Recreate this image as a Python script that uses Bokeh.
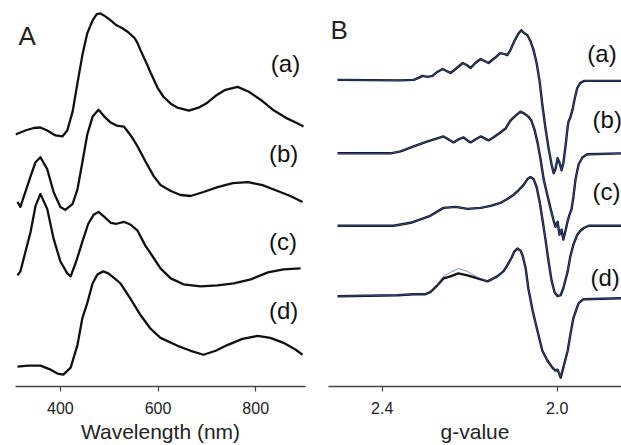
from bokeh.plotting import figure
from bokeh.layouts import row
from bokeh.models import Range1d, Label, FixedTicker, NumeralTickFormatter
from bokeh.embed import file_html
from bokeh.resources import INLINE

# ---------------- Panel A : UV-vis spectra (stacked, arbitrary units) ----------------
wl_a = [308, 328, 345, 359, 373, 390, 404, 414, 425, 435, 445, 455, 466, 474, 482, 492,
        503, 515, 527, 539, 552, 558, 564, 578, 585, 599, 611, 626, 640, 663, 683, 701,
        718, 738, 763, 786, 810, 835, 861, 882, 898]
abs_a = [2.54, 2.58, 2.605, 2.61, 2.58, 2.53, 2.52, 2.58, 2.77, 3.06, 3.34, 3.56, 3.69, 3.75, 3.76, 3.73,
         3.69, 3.64, 3.61, 3.57, 3.51, 3.46, 3.39, 3.24, 3.16, 3.01, 2.92, 2.85, 2.81, 2.78, 2.81, 2.86,
         2.93, 2.99, 3.02, 2.97, 2.89, 2.79, 2.71, 2.66, 2.62]

wl_b = [312, 318, 339, 349, 359, 373, 386, 400, 410, 425, 435, 445, 455, 466, 478, 490,
        503, 515, 530, 544, 558, 574, 591, 605, 626, 646, 667, 693, 722, 753, 784, 814,
        845, 871, 896]
abs_b = [1.86, 1.81, 2.12, 2.26, 2.31, 2.19, 1.96, 1.81, 1.78, 1.84, 1.99, 2.26, 2.54, 2.72, 2.79, 2.72,
         2.66, 2.63, 2.62, 2.53, 2.42, 2.27, 2.12, 2.03, 1.97, 1.93, 1.92, 1.96, 2.01, 2.05, 2.06, 2.03,
         1.97, 1.92, 1.86]

wl_c = [312, 318, 339, 349, 359, 373, 386, 400, 414, 421, 433, 445, 457, 468, 478, 490,
        503, 515, 530, 544, 558, 574, 589, 605, 626, 652, 687, 722, 755, 790, 825, 857, 892]
abs_c = [1.12, 1.16, 1.56, 1.82, 1.94, 1.79, 1.49, 1.26, 1.14, 1.11, 1.27, 1.46, 1.64, 1.73, 1.76, 1.71,
         1.65, 1.64, 1.66, 1.63, 1.57, 1.42, 1.31, 1.19, 1.09, 1.03, 1.01, 1.02, 1.04, 1.08, 1.15, 1.18, 1.19]

wl_d = [312, 334, 359, 380, 394, 406, 421, 435, 445, 455, 466, 476, 488, 498, 511, 523,
        544, 564, 585, 605, 640, 667, 693, 718, 743, 773, 804, 830, 857, 882, 896]
abs_d = [0.20, 0.21, 0.21, 0.17, 0.13, 0.12, 0.19, 0.42, 0.69, 0.84, 1.04, 1.13, 1.16, 1.14, 1.09, 1.04,
         0.88, 0.72, 0.58, 0.49, 0.41, 0.36, 0.32, 0.36, 0.42, 0.48, 0.51, 0.49, 0.44, 0.37, 0.32]

uv_ticks = [400, 600, 800]

# ---------------- Panel B : EPR spectra (experiment black, simulation blue) ----------------
g_a = [2.502, 2.358, 2.328, 2.317, 2.308, 2.296, 2.285, 2.274, 2.262, 2.253, 2.244, 2.232, 2.216, 2.207,
       2.198, 2.187, 2.175, 2.166, 2.157, 2.143, 2.130, 2.120, 2.114, 2.107, 2.098, 2.088, 2.082, 2.075,
       2.068, 2.061, 2.054, 2.047, 2.040, 2.034, 2.027, 2.020, 2.013, 2.008, 2.004, 1.999, 1.995, 1.990,
       1.986, 1.981, 1.976, 1.974, 1.970, 1.965, 1.960, 1.954, 1.947, 1.938, 1.853]
epr_a = [3.09, 3.085, 3.09, 3.11, 3.13, 3.12, 3.13, 3.17, 3.20, 3.18, 3.16, 3.20, 3.26, 3.24,
         3.21, 3.26, 3.30, 3.28, 3.26, 3.31, 3.36, 3.35, 3.34, 3.39, 3.48, 3.56, 3.59, 3.56,
         3.54, 3.48, 3.39, 3.26, 3.07, 2.84, 2.61, 2.41, 2.24, 2.15, 2.19, 2.30, 2.26, 2.18,
         2.25, 2.42, 2.62, 2.67, 2.71, 2.79, 2.90, 3.01, 3.06, 3.08, 3.08]

g_b = [2.502, 2.381, 2.358, 2.328, 2.296, 2.274, 2.260, 2.248, 2.237, 2.226, 2.214, 2.205, 2.198, 2.187,
       2.175, 2.166, 2.157, 2.146, 2.130, 2.118, 2.107, 2.095, 2.084, 2.075, 2.066, 2.059, 2.052, 2.045,
       2.038, 2.031, 2.022, 2.015, 2.008, 2.004, 1.999, 1.995, 1.990, 1.986, 1.981, 1.976, 1.972, 1.967,
       1.963, 1.958, 1.951, 1.942, 1.931, 1.853]
epr_b = [2.35, 2.35, 2.37, 2.42, 2.47, 2.50, 2.52, 2.49, 2.46, 2.49, 2.51, 2.48, 2.46, 2.49,
         2.52, 2.50, 2.48, 2.51, 2.56, 2.60, 2.68, 2.73, 2.77, 2.75, 2.72, 2.68, 2.59, 2.46,
         2.29, 2.09, 1.92, 1.79, 1.67, 1.61, 1.66, 1.53, 1.58, 1.48, 1.57, 1.67, 1.73, 1.79,
         1.91, 2.09, 2.24, 2.31, 2.34, 2.35]

g_c = [2.502, 2.374, 2.335, 2.290, 2.260, 2.232, 2.205, 2.175, 2.152, 2.130, 2.114, 2.100, 2.088, 2.077,
       2.068, 2.061, 2.054, 2.047, 2.040, 2.034, 2.027, 2.020, 2.013, 2.006, 1.999, 1.992, 1.986, 1.976,
       1.970, 1.963, 1.954, 1.947, 1.938, 1.928, 1.853]
epr_c = [1.62, 1.62, 1.65, 1.72, 1.80, 1.81, 1.79, 1.80, 1.82, 1.85, 1.89, 1.93, 1.98, 2.03,
         2.09, 2.11, 2.09, 2.01, 1.86, 1.69, 1.49, 1.27, 1.07, 0.95, 0.91, 0.92, 0.99, 1.16,
         1.31, 1.43, 1.53, 1.57, 1.60, 1.62, 1.62]

g_d = [2.502, 2.365, 2.328, 2.301, 2.290, 2.274, 2.260, 2.244, 2.226, 2.205, 2.182, 2.159, 2.137, 2.123,
       2.114, 2.104, 2.098, 2.091, 2.084, 2.079, 2.072, 2.066, 2.056, 2.045, 2.034, 2.022, 2.011, 2.004,
       1.999, 1.992, 1.986, 1.976, 1.970, 1.963, 1.951, 1.940, 1.853]
epr_d = [0.91, 0.92, 0.93, 0.93, 0.95, 1.02, 1.09, 1.11, 1.14, 1.12, 1.09, 1.06, 1.11, 1.16,
         1.22, 1.30, 1.36, 1.39, 1.37, 1.32, 1.19, 0.99, 0.76, 0.56, 0.36, 0.26, 0.19, 0.16,
         0.17, 0.09, 0.19, 0.36, 0.52, 0.69, 0.84, 0.88, 0.89]
sim_d = [0.91, 0.92, 0.93, 0.93, 0.95, 1.02, 1.11, 1.15, 1.19, 1.16, 1.10, 1.06, 1.11, 1.16,
         1.22, 1.30, 1.36, 1.39, 1.37, 1.32, 1.19, 0.99, 0.76, 0.56, 0.36, 0.26, 0.19, 0.16,
         0.17, 0.10, 0.19, 0.36, 0.52, 0.69, 0.84, 0.88, 0.89]

g_ticks = [2.4, 2.0]

FONT = "Liberation Sans"
BLACK = "#111111"
BLUE = "#4360d0"
AXIS = "#444444"


def style_axis(p):
    ax = p.xaxis[0]
    ax.axis_line_color = AXIS
    ax.axis_line_width = 1.5
    ax.major_tick_line_color = AXIS
    ax.major_tick_line_width = 1.2
    ax.major_tick_out = 5
    ax.major_tick_in = 0
    ax.minor_tick_line_color = None
    ax.major_label_text_font = FONT
    ax.major_label_text_font_size = "16px"
    ax.major_label_text_color = "#222222"
    ax.major_label_text_line_height = 0.65
    ax.major_label_standoff = 10
    ax.axis_label_text_font = FONT
    ax.axis_label_text_font_size = "21px"
    ax.axis_label_text_font_style = "normal"
    ax.axis_label_text_color = "#222222"
    ax.axis_label_text_line_height = 0.65
    ax.axis_label_standoff = 3
    p.grid.visible = False
    p.outline_line_color = None
    p.background_fill_color = "white"
    p.border_fill_color = "white"


# ---- Panel A figure
pA = figure(width=310, height=445, x_range=Range1d(308, 902), y_range=Range1d(0, 3.89),
            output_backend="svg", toolbar_location=None, y_axis_location=None,
            min_border_left=15, min_border_right=5, min_border_top=0, min_border_bottom=56,
            x_axis_label="Wavelength (nm)")
style_axis(pA)
pA.xaxis.ticker = FixedTicker(ticks=uv_ticks)
for xs, ys in [(wl_a, abs_a), (wl_b, abs_b), (wl_c, abs_c), (wl_d, abs_d)]:
    pA.line(xs, ys, line_color=BLACK, line_width=2.3, line_join="round")

for txt, x, y in [("(a)", 831, 3.26), ("(b)", 827, 2.35), ("(c)", 827, 1.46), ("(d)", 827, 0.77)]:
    pA.add_layout(Label(x=x, y=y, text=txt, text_font=FONT, text_font_size="24px",
                        text_baseline="middle", text_color="#111111"))
pA.add_layout(Label(x=314, y=3.53, text="A", text_font=FONT, text_font_size="26px",
                    text_baseline="middle", text_color="#222222"))

# ---- Panel B figure
pB = figure(width=311, height=445, x_range=Range1d(2.5227, 1.853), y_range=Range1d(0, 3.89),
            output_backend="svg", toolbar_location=None, y_axis_location=None,
            min_border_left=18, min_border_right=0, min_border_top=0, min_border_bottom=56,
            x_axis_label="g-value")
style_axis(pB)
pB.xaxis.ticker = FixedTicker(ticks=g_ticks)
pB.xaxis.formatter = NumeralTickFormatter(format="0.0")
for xs, ys, sims in [(g_a, epr_a, epr_a), (g_b, epr_b, epr_b), (g_c, epr_c, epr_c), (g_d, epr_d, sim_d)]:
    pB.line(xs, ys, line_color=BLACK, line_width=2.4, line_join="round")
    pB.line(xs, sims, line_color=BLUE, line_width=0.9, line_join="round", line_alpha=0.8)

for txt, x, y in [("(a)", 1.931, 3.36), ("(b)", 1.919, 2.69), ("(c)", 1.919, 1.97), ("(d)", 1.924, 1.10)]:
    pB.add_layout(Label(x=x, y=y, text=txt, text_font=FONT, text_font_size="24px",
                        text_baseline="middle", text_color="#111111"))
pB.add_layout(Label(x=2.518, y=3.59, text="B", text_font=FONT, text_font_size="26px",
                    text_baseline="middle", text_color="#222222"))

layout = row(pA, pB)
open("out.html", "w").write(file_html(layout, INLINE))
